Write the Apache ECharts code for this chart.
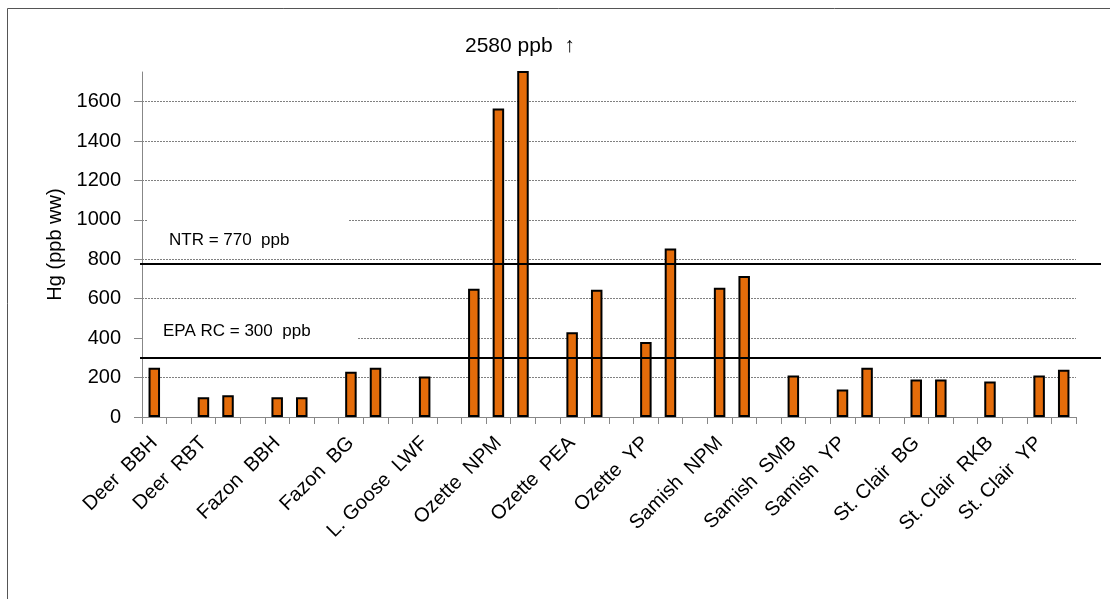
<!DOCTYPE html>
<html>
<head>
<meta charset="utf-8">
<script src="https://cdn.jsdelivr.net/npm/echarts@6/dist/echarts.min.js"></script>
<style>
  html, body { margin: 0; padding: 0; background: #fff; }
  #hgChart { width: 1110px; height: 599px; }
</style>
</head>
<body>
<div id="hgChart"></div>
<script>
// one slot per sample, labels only under the first slot of each group
var categories = ['Deer  BBH', '', 'Deer  RBT', '', '', 'Fazon  BBH', '', '', 'Fazon  BG', '', '',
    'L. Goose  LWF', '', '', 'Ozette  NPM', '', '', 'Ozette  PEA', '', '', 'Ozette  YP', '', '',
    'Samish  NPM', '', '', 'Samish  SMB', '', 'Samish  YP', '', '', 'St. Clair  BG', '', '',
    'St. Clair  RKB', '', 'St. Clair  YP', ''];

// Hg, ppb wet weight (null = empty slot)
var hgValues = [250, null, 100, 110, null, 100, 100, null, 230, 250, null,
    205, null, 650, 1565, 2580, null, 430, 645, null, 380, 855, null,
    655, 715, null, 210, null, 140, 250, null, 190, 190, null,
    180, null, 210, 240];

var yTicks = [0, 200, 400, 600, 800, 1000, 1200, 1400, 1600];
var yMax = 1750;

// screening levels (drawn lines sit a bit above the stated values)
var ntrLevel = 778;
var epaLevel = 302;

var font = '"Liberation Sans", Arial, sans-serif';

var hgChart = echarts.init(document.getElementById('hgChart'));

var peak = Math.max.apply(null, hgValues.filter(function (v) { return v !== null; }));

var option = {
    animation: false,
    backgroundColor: '#fff',
    grid: {
        left: 142,
        right: 34,
        top: 72,
        bottom: 182
    },
    xAxis: {
        type: 'category',
        data: categories,
        boundaryGap: true,
        axisLine: { lineStyle: { color: '#878787', width: 1 } },
        axisTick: { show: true, length: 7, interval: 0, lineStyle: { color: '#878787' } },
        axisLabel: {
            interval: 0,
            rotate: 45,
            margin: 23,
            fontSize: 20,
            color: '#000',
            fontFamily: font
        }
    },
    yAxis: {
        type: 'value',
        min: 0,
        max: yMax,
        interval: 200,
        name: 'Hg (ppb ww)',
        nameLocation: 'middle',
        nameRotate: 90,
        nameGap: 71,
        nameTextStyle: { fontSize: 20, color: '#000', fontFamily: font },
        axisLine: { show: true, lineStyle: { color: '#878787', width: 1 } },
        axisTick: { show: true, length: 8, customValues: yTicks, lineStyle: { color: '#878787' } },
        axisLabel: {
            customValues: yTicks,
            formatter: function (v) { return String(v); },
            margin: 21,
            fontSize: 20,
            color: '#000',
            fontFamily: font
        },
        splitLine: {
            show: true,
            lineStyle: { color: '#808080', width: 1, type: [2, 1] }
        }
    },
    series: [
        {
            name: 'Hg',
            type: 'bar',
            data: hgValues,
            barWidth: 11.5,
            clip: true,
            itemStyle: {
                color: '#E46C0A',
                borderColor: '#000',
                borderWidth: 2
            },
            markLine: {
                silent: true,
                symbol: 'none',
                label: { show: false },
                lineStyle: { color: '#000', width: 2, type: 'solid' },
                data: [
                    [{ x: 140, yAxis: ntrLevel }, { x: 1101, yAxis: ntrLevel }],
                    [{ x: 140, yAxis: epaLevel }, { x: 1101, yAxis: epaLevel }]
                ]
            }
        }
    ],
    graphic: [
        // outer frame, only top and left edges are in view
        { type: 'line', z: 20, shape: { x1: 7.5, y1: 8.5, x2: 1110, y2: 8.5 }, style: { stroke: '#555', lineWidth: 1 } },
        { type: 'line', z: 20, shape: { x1: 7.5, y1: 8.5, x2: 7.5, y2: 599 }, style: { stroke: '#555', lineWidth: 1 } },
        // text boxes over the gridlines
        { type: 'rect', z: 20, shape: { x: 148, y: 212, width: 201, height: 40 }, style: { fill: '#fff' } },
        { type: 'rect', z: 20, shape: { x: 143, y: 318, width: 214, height: 32 }, style: { fill: '#fff' } },
        {
            type: 'text', z: 21, x: 169, y: 240.5,
            style: { text: 'NTR = 770  ppb', fill: '#000', font: '17px ' + font, textVerticalAlign: 'middle' }
        },
        {
            type: 'text', z: 21, x: 163, y: 331.7,
            style: { text: 'EPA RC = 300  ppb', fill: '#000', font: '17px ' + font, textVerticalAlign: 'middle' }
        },
        {
            type: 'text', z: 21, x: 465, y: 46.5,
            style: { text: peak + ' ppb  \u2191', fill: '#000', font: '21px ' + font, textVerticalAlign: 'middle' }
        }
    ]
};

hgChart.setOption(option);
</script>
</body>
</html>
